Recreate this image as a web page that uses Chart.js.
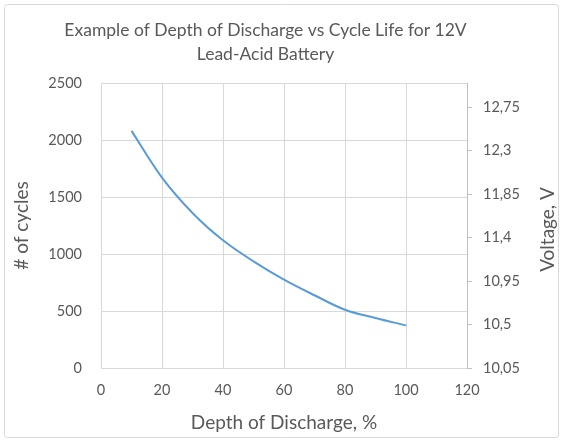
<!DOCTYPE html>
<html>
<head>
<meta charset="utf-8">
<script src="https://cdn.jsdelivr.net/npm/chart.js@4.4.1/dist/chart.umd.min.js"></script>
<style>
  html, body { margin: 0; padding: 0; background: #fff; }
  #wrap { width: 563px; height: 442px; }
</style>
</head>
<body>
<div id="wrap"><canvas id="dodChart" width="563" height="442"></canvas></div>
<script>
// depth of discharge (%) and cycle life
const depth = [10, 20, 30, 40, 50, 60, 70, 80, 90, 100];
const cycles = [2080, 1670, 1360, 1120, 935, 775, 638, 511, 439, 374];
const voltageTicks = [10.05, 10.5, 10.95, 11.4, 11.85, 12.3, 12.75];
const titleLines = ['Example of Depth of Discharge vs Cycle Life for 12V', 'Lead-Acid Battery'];
const rightTitle = 'Voltage, V';

const textColor = '#595959';
const gridColor = '#d9d9d9';
const fontFamily = 'Lato, "Open Sans", sans-serif';

// light frame around the chart area + right axis title (reads bottom to top)
const frame = {
    id: 'frame',
    beforeDraw(chart) {
        const c = chart.ctx;
        c.save();
        c.strokeStyle = gridColor;
        c.lineWidth = 1;
        c.beginPath();
        c.roundRect(4.5, 4.5, chart.width - 9, chart.height - 9, 3);
        c.stroke();
        c.restore();
    },
    afterDraw(chart) {
        const c = chart.ctx;
        const a = chart.chartArea;
        c.save();
        c.translate(548, (a.top + a.bottom) / 2 + 4);
        c.rotate(-Math.PI / 2);
        c.fillStyle = textColor;
        c.font = '19px ' + fontFamily;
        c.textAlign = 'center';
        c.textBaseline = 'middle';
        c.fillText(rightTitle, 0, 0);
        c.restore();
    }
};

const ctx = document.getElementById('dodChart').getContext('2d');
new Chart(ctx, {
    type: 'line',
    data: {
        datasets: [{
            label: '# of cycles',
            data: depth.map((d, i) => ({ x: d, y: cycles[i] })),
            borderColor: '#5b9bd5',
            borderWidth: 2,
            pointRadius: 0,
            fill: false,
            tension: 0.35,
            yAxisID: 'y'
        }]
    },
    options: {
        responsive: false,
        animation: false,
        // extra right padding pulls the title's centre left, like the reference
        layout: { padding: { left: 6, right: 38, top: 6, bottom: 6 } },
        plugins: {
            legend: { display: false },
            tooltip: { enabled: false },
            title: {
                display: true,
                text: titleLines,
                color: textColor,
                font: { family: fontFamily, size: 17.5, weight: 'normal', lineHeight: 1.4 },
                padding: { top: 12, bottom: 16 }
            }
        },
        scales: {
            x: {
                type: 'linear',
                min: 0,
                max: 120,
                ticks: { stepSize: 20, color: textColor, font: { family: fontFamily, size: 14.5 }, padding: 14 },
                grid: { color: gridColor, drawTicks: false },
                border: { display: false },
                title: { display: true, text: 'Depth of Discharge, %', color: textColor, font: { family: fontFamily, size: 19 }, padding: { top: 4, bottom: 2 } },
                afterFit: s => { s.height = 68; }
            },
            y: {
                position: 'left',
                min: 0,
                max: 2500,
                ticks: { stepSize: 500, color: textColor, font: { family: fontFamily, size: 14.5 }, padding: 19, callback: v => String(v) },
                grid: { color: gridColor, drawTicks: false },
                border: { display: false },
                title: { display: true, text: '# of cycles', color: textColor, font: { family: fontFamily, size: 19 } },
                afterFit: s => { s.width = 95; }
            },
            y1: {
                type: 'linear',
                position: 'right',
                display: true,
                min: 10.05,
                max: 13.0,
                afterBuildTicks: s => { s.ticks = voltageTicks.map(v => ({ value: v })); },
                ticks: {
                    color: textColor,
                    font: { family: fontFamily, size: 14.5 },
                    padding: 11,
                    callback: v => String(Math.round(v * 100) / 100).replace('.', ',')
                },
                grid: { drawOnChartArea: false, drawTicks: true, tickLength: 5, color: '#bfbfbf' },
                border: { display: true, color: '#bfbfbf' },
                afterFit: s => { s.width = 58; }
            }
        }
    },
    plugins: [frame]
});
</script>
</body>
</html>
